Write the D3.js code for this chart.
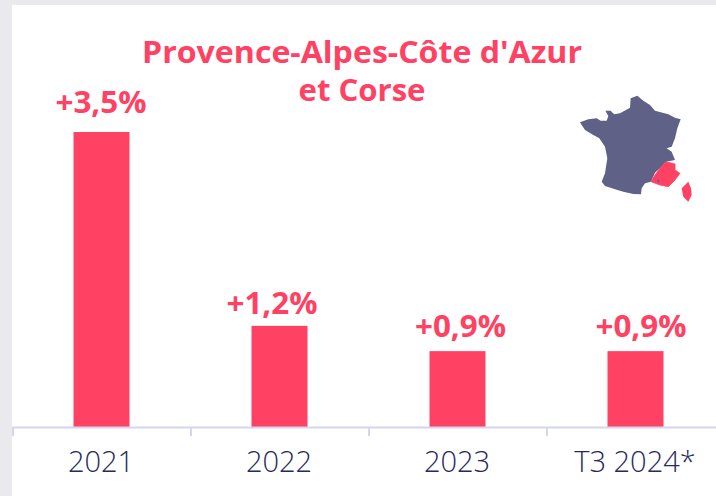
<!DOCTYPE html>
<html>
<head>
<meta charset="utf-8">
<script src="https://cdn.jsdelivr.net/npm/d3@7"></script>
<style>
  html, body { margin: 0; padding: 0; background: #fff; overflow: hidden; }
  text { font-family: "Open Sans", sans-serif; }
</style>
</head>
<body>
<script>
var categories = ["2021", "2022", "2023", "T3 2024*"];
var values = [3.5, 1.2, 0.9, 0.9];
var valueLabels = ["+3,5%", "+1,2%", "+0,9%", "+0,9%"];
var titleLines = ["Provence-Alpes-Côte d'Azur", "et Corse"];

// map, in a 468x390 box
var mapFrance = [[60,127],[85,118],[110,115],[122,122],[140,122],[145,108],[136,92],[152,92],[162,103],[180,100],[210,83],[212,55],[232,47],[250,62],[270,75],[285,92],[325,103],[345,113],[362,118],[352,145],[345,175],[335,200],[320,205],[335,215],[345,240],[318,245],[300,265],[285,278],[273,305],[255,310],[245,325],[243,343],[220,342],[190,335],[165,328],[135,318],[125,305],[135,280],[142,235],[135,200],[118,175],[100,165],[75,150],[65,135]];
var mapRegion = [[318,245],[345,252],[345,270],[360,280],[345,300],[325,320],[300,315],[273,305],[285,285],[300,265]];
var mapCorsica = [[385,305],[393,325],[395,345],[385,365],[370,350],[365,325]];

var width = 716, height = 496,
    pink = "#ff4163", navy = "#262a5e", slate = "#5f6187", axisColor = "#d5d5ee";

var svg = d3.select("body").append("svg")
  .attr("width", width)
  .attr("height", height)
  .style("display", "block")
  .style("background-color", "#e9e9ee");

svg.append("rect")
  .attr("x", 12).attr("y", 5)
  .attr("width", width - 12).attr("height", height - 5)
  .attr("fill", "#fff");

var x = d3.scaleBand().domain(categories).range([12, 724]);
var y = d3.scaleLinear().domain([0, 3.5]).range([427, 132]);
var barWidth = 56;

svg.selectAll("rect.bar")
  .data(values)
  .enter().append("rect")
  .attr("class", "bar")
  .attr("x", function (d, i) { return x(categories[i]) + x.bandwidth() / 2 - barWidth / 2 + 0.5; })
  .attr("y", function (d) { return y(d); })
  .attr("width", barWidth)
  .attr("height", function (d) { return y(0) - y(d); })
  .attr("fill", pink);

// labels sit a little off the bars in the original
var labelDx = [0, -7, 3.5, 6], labelDy = [-19, -12, -14, -14];

svg.selectAll("text.val")
  .data(valueLabels)
  .enter().append("text")
  .attr("class", "val")
  .attr("x", function (d, i) { return x(categories[i]) + x.bandwidth() / 2 + labelDx[i]; })
  .attr("y", function (d, i) { return y(values[i]) + labelDy[i]; })
  .attr("text-anchor", "middle")
  .attr("font-size", 30)
  .attr("font-weight", 700)
  .attr("fill", pink)
  .attr("textLength", 91)
  .attr("lengthAdjust", "spacingAndGlyphs")
  .text(function (d) { return d; });

var axis = d3.axisBottom(x).tickSizeInner(0).tickSizeOuter(0).tickPadding(24);
var axisG = svg.append("g")
  .attr("transform", "translate(0,427)")
  .call(axis);
axisG.select(".domain").attr("stroke", axisColor).attr("stroke-width", 2);
axisG.selectAll("text")
  .attr("font-size", 29)
  .attr("font-family", "Lato")
  .attr("font-weight", 300)
  .attr("fill", navy);

// group separators, at the band edges
svg.selectAll("line.sep")
  .data(categories)
  .enter().append("line")
  .attr("class", "sep")
  .attr("x1", function (d) { return x(d) + 1; })
  .attr("x2", function (d) { return x(d) + 1; })
  .attr("y1", 427).attr("y2", 436)
  .attr("stroke", axisColor)
  .attr("stroke-width", 2);

var titleWidths = [440, 127];
svg.selectAll("text.title")
  .data(titleLines)
  .enter().append("text")
  .attr("class", "title")
  .attr("x", 362)
  .attr("y", function (d, i) { return 63 + i * 38; })
  .attr("text-anchor", "middle")
  .attr("font-size", 30)
  .attr("font-weight", 700)
  .attr("fill", pink)
  .attr("textLength", function (d, i) { return titleWidths[i]; })
  .attr("lengthAdjust", "spacingAndGlyphs")
  .text(function (d) { return d; });

var mx = d3.scaleLinear().domain([0, 468]).range([560, 716]);
var my = d3.scaleLinear().domain([0, 390]).range([80, 210]);
var mapLine = d3.line()
  .x(function (p) { return mx(p[0]); })
  .y(function (p) { return my(p[1]); })
  .curve(d3.curveLinearClosed);

svg.append("path").attr("d", mapLine(mapFrance)).attr("fill", slate);
svg.append("path").attr("d", mapLine(mapRegion)).attr("fill", pink).attr("stroke", pink).attr("stroke-width", 0.8);
svg.append("path").attr("d", mapLine(mapCorsica)).attr("fill", pink);
svg.append("circle").attr("cx", mx(295)).attr("cy", my(303)).attr("r", 1.3).attr("fill", slate);
</script>
</body>
</html>
